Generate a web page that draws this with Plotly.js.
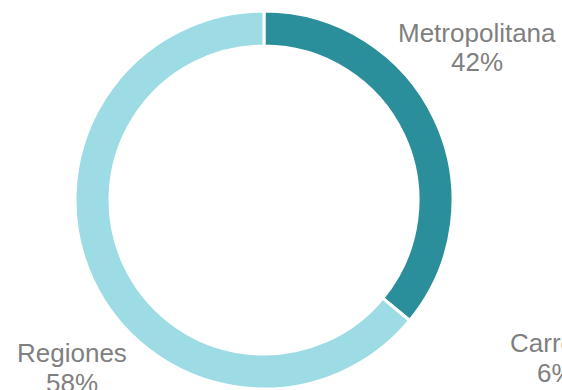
<!DOCTYPE html>
<html>
<head>
<meta charset="utf-8">
<script src="https://cdn.plot.ly/plotly-3.0.1.min.js"></script>
<style>html,body{margin:0;padding:0;background:#fff;}#chart{width:562px;height:390px;}</style>
</head>
<body>
<div id="chart"></div>
<script>
// Ring slices as drawn (share of the ring)
const sliceNames = ["Metropolitana", "Regiones"];
const sliceValues = [36, 64];
const sliceColors = ["#2A8F9B", "#9DDCE5"];
// Data labels as printed on the chart
const labelNames = ["Metropolitana", "Regiones", "Carretera"];
const labelPercents = ["42%", "58%", "6%"];

const W = 562, H = 390;
const cx = 264, cy = 200, R = 189;
// [x, anchor, yName, xPct, anchorPct]
const labelPos = [
  { xn: 477, an: "center", yn: 32.5, xp: 477, ap: "center" },
  { xn: 72,  an: "center", yn: 352.5, xp: 72, ap: "center" },
  { xn: 508, an: "left",   yn: 342.5, xp: 535, ap: "left" }
];
const LINE = 30;
const font = { family: "Liberation Sans, Arial, sans-serif", size: 26, color: "#7F7F7F" };

const data = [{
  type: "pie",
  labels: sliceNames,
  values: sliceValues,
  hole: 0.815,
  sort: false,
  direction: "clockwise",
  rotation: 0,
  textinfo: "none",
  hoverinfo: "label+percent",
  marker: { colors: sliceColors, line: { color: "#ffffff", width: 3 } },
  domain: { x: [(cx - R) / W, (cx + R) / W], y: [1 - (cy + R) / H, 1 - (cy - R) / H] },
  showlegend: false
}];

const annotations = [];
labelNames.forEach((n, i) => {
  const p = labelPos[i];
  annotations.push({
    xref: "paper", yref: "paper", x: p.xn / W, y: 1 - p.yn / H,
    xanchor: p.an, yanchor: "middle", text: n, showarrow: false, font: font
  });
  annotations.push({
    xref: "paper", yref: "paper", x: p.xp / W, y: 1 - (p.yn + LINE) / H,
    xanchor: p.ap, yanchor: "middle", text: labelPercents[i], showarrow: false, font: font
  });
});

Plotly.newPlot("chart", data, {
  width: W, height: H,
  margin: { l: 0, r: 0, t: 0, b: 0 },
  paper_bgcolor: "#ffffff",
  annotations: annotations
}, { staticPlot: true });
</script>
</body>
</html>
